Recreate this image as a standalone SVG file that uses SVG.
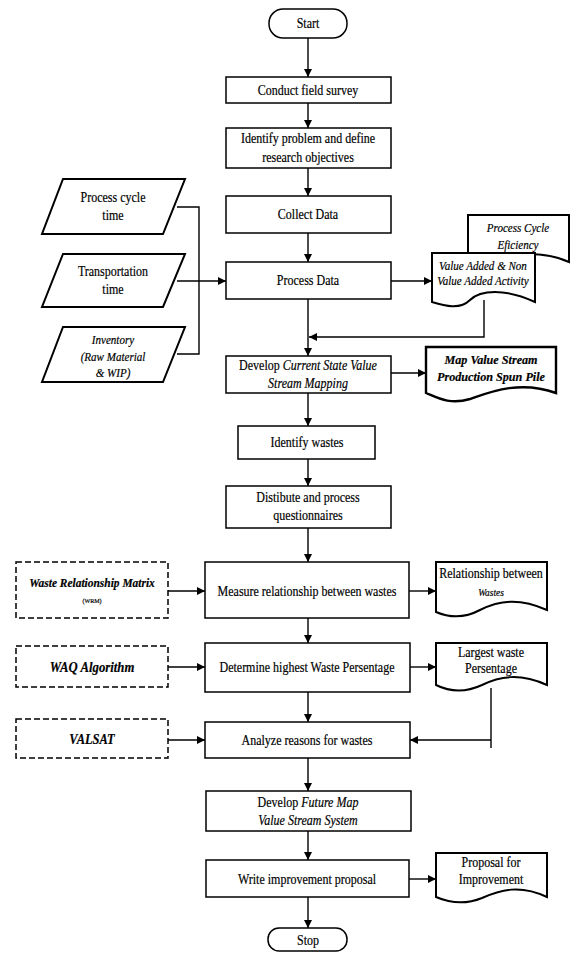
<svg xmlns="http://www.w3.org/2000/svg" width="572" height="954" viewBox="0 0 572 954">
<style>
text{font-family:"Liberation Serif","Times New Roman",serif;text-anchor:middle;fill:#000;stroke:#000;stroke-width:0.2}
.t{font-size:15px}
.i{font-style:italic}
.bi{font-style:italic;font-weight:bold}
.di{font-size:13px;font-style:italic}
.box{fill:#fff;stroke:#000;stroke-width:1.5}
.thick{fill:#fff;stroke:#000;stroke-width:2}
.dash{fill:#fff;stroke:#000;stroke-width:1.5;stroke-dasharray:6 3}
.ln{fill:none;stroke:#000;stroke-width:1.4}
</style>
<defs>
<marker id="ah" viewBox="0 0 10 10" refX="10" refY="5" markerWidth="8" markerHeight="8" markerUnits="userSpaceOnUse" orient="auto">
<path d="M0,0 L10,5 L0,10 z" fill="#000"/>
</marker>
</defs>
<rect width="572" height="954" fill="#fff"/>

<g id="connectors">
<path class="ln" d="M308,38 V77" marker-end="url(#ah)"/>
<path class="ln" d="M308,103 V128" marker-end="url(#ah)"/>
<path class="ln" d="M308,168 V196" marker-end="url(#ah)"/>
<path class="ln" d="M308,233 V262" marker-end="url(#ah)"/>
<path class="ln" d="M308,299 V356" marker-end="url(#ah)"/>
<path class="ln" d="M177,207 H199 V354 H177"/>
<path class="ln" d="M177,281 H226" marker-end="url(#ah)"/>
<path class="ln" d="M391,281 H432" marker-end="url(#ah)"/>
<path class="ln" d="M484,300 V337 H309" marker-end="url(#ah)"/>
<path class="ln" d="M391,373 H426" marker-end="url(#ah)"/>
<path class="ln" d="M308,393 V426" marker-end="url(#ah)"/>
<path class="ln" d="M308,459 V486" marker-end="url(#ah)"/>
<path class="ln" d="M308,528 V562" marker-end="url(#ah)"/>
<path class="ln" d="M168,591 H205" marker-end="url(#ah)"/>
<path class="ln" d="M409,591 H436" marker-end="url(#ah)"/>
<path class="ln" d="M308,618 V643" marker-end="url(#ah)"/>
<path class="ln" d="M168,667 H205" marker-end="url(#ah)"/>
<path class="ln" d="M410,667 H436" marker-end="url(#ah)"/>
<path class="ln" d="M308,692 V722" marker-end="url(#ah)"/>
<path class="ln" d="M491,688 V748 M491,740 H410" marker-end="url(#ah)"/>
<path class="ln" d="M168,740 H205" marker-end="url(#ah)"/>
<path class="ln" d="M308,758 V791" marker-end="url(#ah)"/>
<path class="ln" d="M308,831 V860" marker-end="url(#ah)"/>
<path class="ln" d="M409,879 H436" marker-end="url(#ah)"/>
<path class="ln" d="M308,897 V928" marker-end="url(#ah)"/>
</g>

<g id="start">
<rect class="box" x="269" y="9" width="78" height="29" rx="14" ry="14"/>
<text class="t" transform="matrix(.8 0 0 1 308 28)">Start</text>
</g>
<g id="survey">
<rect class="box" x="226" y="77" width="165" height="26"/>
<text class="t" transform="matrix(.8 0 0 1 308 95)">Conduct field survey</text>
</g>
<g id="identify-problem">
<rect class="box" x="226" y="128" width="165" height="40"/>
<text class="t" transform="matrix(.8 0 0 1 308 143)">Identify problem and define</text>
<text class="t" transform="matrix(.8 0 0 1 308 162)">research objectives</text>
</g>
<g id="collect">
<rect class="box" x="226" y="196" width="165" height="37"/>
<text class="t" transform="matrix(.8 0 0 1 308 219)">Collect Data</text>
</g>
<g id="process">
<rect class="box" x="226" y="262" width="165" height="37"/>
<text class="t" transform="matrix(.8 0 0 1 308 285)">Process Data</text>
</g>

<g id="in-cycle">
<path class="thick" d="M63,179 H185 L163,234 H42 Z"/>
<text class="t" transform="matrix(.8 0 0 1 113 202)">Process cycle</text>
<text class="t" transform="matrix(.8 0 0 1 113 220)">time</text>
</g>
<g id="in-transport">
<path class="thick" d="M63,254 H185 L163,307 H42 Z"/>
<text class="t" transform="matrix(.8 0 0 1 113 276)">Transportation</text>
<text class="t" transform="matrix(.8 0 0 1 113 294)">time</text>
</g>
<g id="in-inventory">
<path class="thick" d="M63,327 H185 L163,382 H42 Z"/>
<text class="di" transform="matrix(.85 0 0 1 113 344)">Inventory</text>
<text class="di" transform="matrix(.85 0 0 1 113 361)">(Raw Material</text>
<text class="di" transform="matrix(.85 0 0 1 113 377)">&amp; WIP)</text>
</g>

<g id="doc-pce">
<path class="thick" d="M468,215 H569 V262 C544,250 510,252 468,262 Z"/>
<text class="di" transform="matrix(.85 0 0 1 518 232)">Process Cycle</text>
<text class="di" transform="matrix(.85 0 0 1 518 249)">Eficiency</text>
</g>
<g id="doc-va">
<path class="thick" d="M432,253 H535 V302 C505,288 480,290 470,300 C460,310 445,306 432,302 Z"/>
<text class="di" transform="matrix(.85 0 0 1 483 270)">Value Added &amp; Non</text>
<text class="di" transform="matrix(.85 0 0 1 483 285)">Value Added Activity</text>
</g>

<g id="develop-current">
<rect class="box" x="226" y="356" width="165" height="37"/>
<text class="t" transform="matrix(.8 0 0 1 308 370)">Develop <tspan class="i">Current State Value</tspan></text>
<text class="t i" transform="matrix(.8 0 0 1 308 388)">Stream Mapping</text>
</g>
<g id="doc-map">
<path class="box" style="stroke-width:2.4" d="M426,347 H556 V393 C520,380 490,392 470,399 C450,405 438,398 426,393 Z"/>
<text class="bi" style="font-size:13.5px" transform="matrix(.9 0 0 1 491 364)">Map Value Stream</text>
<text class="bi" style="font-size:13.5px" transform="matrix(.9 0 0 1 491 381)">Production Spun Pile</text>
</g>

<g id="identify-wastes">
<rect class="box" x="238" y="426" width="137" height="33"/>
<text class="t" transform="matrix(.8 0 0 1 307 447)">Identify wastes</text>
</g>
<g id="distribute">
<rect class="box" x="226" y="486" width="165" height="42"/>
<text class="t" transform="matrix(.8 0 0 1 308 502)">Distibute and process</text>
<text class="t" transform="matrix(.8 0 0 1 308 520)">questionnaires</text>
</g>

<g id="wrm">
<rect class="dash" x="16" y="562" width="152" height="56"/>
<text class="bi" style="font-size:13px" transform="matrix(.88 0 0 1 92 587)">Waste Relationship Matrix</text>
<text style="font-size:6px" x="92" y="603">(WRM)</text>
</g>
<g id="measure">
<rect class="box" x="205" y="562" width="204" height="56"/>
<text class="t" transform="matrix(.8 0 0 1 307 596)">Measure relationship between wastes</text>
</g>
<g id="doc-rel">
<path class="thick" d="M436,562 H547 V610 C520,598 500,600 480,610 C465,618 450,618 436,612 Z"/>
<text class="t" transform="matrix(.8 0 0 1 491 578)">Relationship between</text>
<text class="i" style="font-size:11px" transform="matrix(.85 0 0 1 491 596)">Wastes</text>
</g>

<g id="waq">
<rect class="dash" x="16" y="646" width="152" height="41"/>
<text class="bi" style="font-size:15px" transform="matrix(.85 0 0 1 92 672)">WAQ Algorithm</text>
</g>
<g id="determine">
<rect class="box" x="205" y="643" width="205" height="49"/>
<text class="t" transform="matrix(.8 0 0 1 307 672)">Determine highest Waste Persentage</text>
</g>
<g id="doc-largest">
<path class="thick" d="M436,643 H547 V685 C520,673 500,676 482,685 C465,693 450,692 436,685 Z"/>
<text class="t" transform="matrix(.8 0 0 1 491 657)">Largest waste</text>
<text class="t" transform="matrix(.8 0 0 1 491 673)">Persentage</text>
</g>

<g id="valsat">
<rect class="dash" x="16" y="719" width="152" height="39"/>
<text class="bi" style="font-size:15px" transform="matrix(.83 0 0 1 92 744)">VALSAT</text>
</g>
<g id="analyze">
<rect class="box" x="205" y="722" width="205" height="36"/>
<text class="t" transform="matrix(.8 0 0 1 307 745)">Analyze  reasons for wastes</text>
</g>

<g id="develop-future">
<rect class="box" x="206" y="791" width="205" height="40"/>
<text class="t" transform="matrix(.8 0 0 1 308 807)">Develop <tspan class="i">Future Map</tspan></text>
<text class="t i" transform="matrix(.8 0 0 1 308 825)">Value Stream System</text>
</g>
<g id="write">
<rect class="box" x="206" y="860" width="203" height="37"/>
<text class="t" transform="matrix(.8 0 0 1 307 884)">Write improvement proposal</text>
</g>
<g id="doc-proposal">
<path class="thick" d="M436,853 H547 V897 C520,884 500,890 482,898 C465,905 450,903 436,897 Z"/>
<text class="t" transform="matrix(.8 0 0 1 491 867)">Proposal for</text>
<text class="t" transform="matrix(.8 0 0 1 491 884)">Improvement</text>
</g>
<g id="stop">
<rect class="box" x="268" y="928" width="79" height="23" rx="11" ry="11"/>
<text class="t" transform="matrix(.8 0 0 1 308 945)">Stop</text>
</g>
</svg>
